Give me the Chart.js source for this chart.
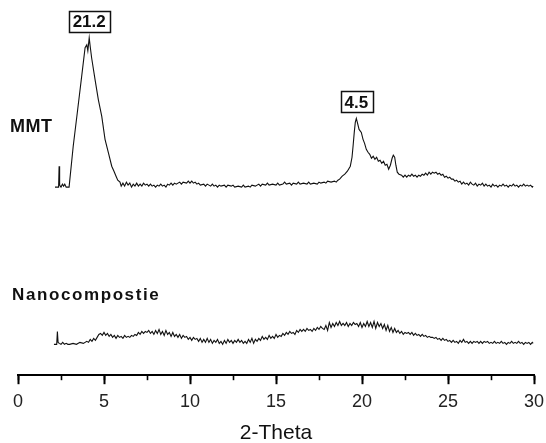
<!DOCTYPE html>
<html>
<head>
<meta charset="utf-8">
<script src="https://cdn.jsdelivr.net/npm/chart.js@4/dist/chart.umd.min.js"></script>
<style>
  html, body { margin: 0; padding: 0; background: #fff; }
  #wrap { width: 546px; height: 443px; position: relative; }
</style>
</head>
<body>
<div id="wrap"><canvas id="c" width="546" height="443"></canvas></div>
<script>
// ---- Data ----
const tickLabels = ['0', '5', '10', '15', '20', '25', '30'];
const seriesNames = ['MMT', 'Nanocompostie'];
const peakLabels = ['21.2', '4.5'];
const peakTheta = [4.14, 19.67];
const peakIntensity = [150, 69];
const seriesOffsets = [189, 31]; // vertical stacking offsets (a.u.)

const mmtTheta = [2.15,2.3,2.36,2.39,2.42,2.5,2.58,2.65,2.72,2.8,2.97,
3.21,3.47,3.70,3.90,4.00,4.06,4.14,4.20,4.28,4.48,4.67,4.87,5.06,5.25,5.45,5.58,5.70,5.80,5.93,
6.0,6.1,6.2,6.3,6.4,6.5,6.6,6.7,6.8,6.9,7.0,7.1,7.2,7.3,7.4,7.5,7.6,7.7,7.8,7.9,8.0,8.1,8.2,8.3,8.4,8.5,8.6,8.7,8.8,8.9,9.0,9.1,9.2,9.4,9.5,9.6,9.8,9.9,10.0,10.1,10.2,10.3,10.4,10.5,10.6,10.8,10.9,11.0,11.1,11.2,11.3,11.4,11.5,11.6,11.7,11.8,12.0,12.1,12.2,12.4,12.5,12.6,12.8,13.0,13.1,13.2,13.4,13.5,13.6,13.8,14.0,14.1,14.2,14.4,14.5,14.6,14.8,15.0,15.1,15.2,15.4,15.5,15.6,15.8,15.9,16.0,16.2,16.3,16.4,16.6,16.8,16.9,17.0,17.2,17.4,17.5,17.6,17.8,17.9,18.0,18.2,18.4,18.5,18.6,18.7,18.85,19.0,19.15,19.32,19.42,19.48,19.55,19.61,19.67,19.73,19.83,19.96,20.06,20.15,20.25,20.35,20.45,20.55,20.65,20.75,20.85,20.95,21.05,21.15,21.25,21.35,21.45,21.55,21.65,21.75,21.82,21.9,21.97,22.05,22.15,22.3,22.4,22.5,22.6,22.7,22.8,22.9,23.0,23.1,23.2,23.3,23.4,23.5,23.6,23.7,23.8,23.9,24.0,24.1,24.2,24.3,24.4,24.5,24.6,24.7,24.8,24.9,25.0,25.1,25.2,25.3,25.4,25.5,25.6,25.7,25.8,25.9,26.0,26.1,26.2,26.3,26.4,26.5,26.6,26.7,26.8,26.9,27.0,27.1,27.2,27.3,27.4,27.5,27.6,27.7,27.8,27.9,28.0,28.1,28.2,28.3,28.4,28.5,28.6,28.7,28.8,28.9,29.0,29.1,29.2,29.3,29.4,29.5,29.6,29.7,29.8,29.9,29.95];
const mmtIntensity = [0,0,0,21,2,0,3,1,3,0,0,
41,78,111,140,143,137,150,141,130,108,88,71,48,35,21,16,11,7,5,
1,4,1,5,2,4,0,3,1,4,1,3,1,4,2,3,1,3,1,2,0,2,1,3,1,2,0,3,2,4,2,4,3,5,3,5,4,6,4,6,4,5,3,4,2,3,1,3,2,1,3,1,2,0,2,1,2,0,2,1,2,0,1,0,2,0,1,0,2,1,3,1,3,2,4,2,3,2,4,2,3,5,3,4,2,4,3,5,3,4,3,5,3,4,3,5,4,5,4,6,5,6,5,7,8,11,13,16,21,30,41,55,65,69,65,58,55,48,44,38,35,33,29,31,28,30,26,27,24,26,22,23,18,22,29,32,30,22,15,13,12,10,12,10,12,11,13,11,12,10,12,11,13,12,14,12,15,13,15,14,15,13,14,12,13,10,11,9,10,8,8,6,7,5,6,3,5,3,4,2,5,3,2,4,1,3,2,4,1,3,1,2,0,3,1,2,0,2,1,3,1,2,0,2,1,3,1,2,0,2,1,3,1,2,1,2,0,1];

const nanoTheta = [2.09,2.2,2.25,2.29,2.33,2.4,2.5,2.6,2.7,2.8,2.9,3.0,3.2,3.4,3.6,3.8,4.0,4.1,4.2,4.3,4.4,4.5,4.6,4.7,4.8,4.9,5.0,5.1,5.2,5.3,5.4,5.5,5.6,5.7,5.8,5.9,6.0,6.1,6.2,6.3,6.4,6.5,6.6,6.7,6.8,6.9,7.0,7.1,7.2,7.3,7.4,7.5,7.6,7.7,7.8,7.9,8.0,8.1,8.2,8.3,8.4,8.5,8.6,8.7,8.8,8.9,9.0,9.1,9.2,9.3,9.4,9.5,9.6,9.7,9.8,9.9,10.0,10.1,10.2,10.3,10.4,10.5,10.6,10.7,10.8,10.9,11.0,11.1,11.2,11.3,11.4,11.5,11.6,11.7,11.8,11.9,12.0,12.1,12.2,12.3,12.4,12.5,12.6,12.7,12.8,12.9,13.0,13.1,13.2,13.3,13.4,13.5,13.6,13.7,13.8,13.9,14.0,14.1,14.2,14.3,14.4,14.5,14.6,14.7,14.8,14.9,15.0,15.1,15.2,15.3,15.4,15.5,15.6,15.7,15.8,15.9,16.0,16.1,16.2,16.3,16.4,16.5,16.6,16.7,16.8,16.9,17.0,17.1,17.2,17.3,17.4,17.5,17.6,17.7,17.8,17.9,18.0,18.1,18.2,18.3,18.4,18.5,18.6,18.7,18.8,18.9,19.0,19.1,19.2,19.3,19.4,19.5,19.6,19.7,19.8,19.9,20.0,20.1,20.2,20.3,20.4,20.5,20.6,20.7,20.8,20.9,21.0,21.1,21.2,21.3,21.4,21.5,21.6,21.7,21.8,21.9,22.0,22.1,22.2,22.3,22.4,22.5,22.6,22.7,22.8,22.9,23.0,23.1,23.2,23.3,23.4,23.5,23.6,23.7,23.8,23.9,24.0,24.1,24.2,24.3,24.4,24.5,24.6,24.7,24.8,24.9,25.0,25.1,25.2,25.3,25.4,25.5,25.6,25.7,25.8,25.9,26.0,26.1,26.2,26.3,26.4,26.5,26.6,26.7,26.8,26.9,27.0,27.1,27.2,27.3,27.4,27.5,27.6,27.7,27.8,27.9,28.0,28.1,28.2,28.3,28.4,28.5,28.6,28.7,28.8,28.9,29.0,29.1,29.2,29.3,29.4,29.5,29.6,29.7,29.8,29.9,29.95];
const nanoIntensity = [0,0,0,13,2,1,0,2,0,1,0,0,1,0,2,1,3,2,5,3,6,4,7,10,11,9,12,9,11,8,10,7,9,6,9,7,8,6,9,7,8,7,9,8,10,9,12,10,13,11,13,12,14,11,13,10,14,11,15,10,13,9,14,10,12,8,12,8,10,7,10,6,9,7,8,5,7,4,7,5,6,3,6,2,5,2,6,2,5,1,4,2,5,1,3,0,4,1,5,2,4,1,4,2,5,2,4,1,3,1,5,2,6,1,5,3,6,4,8,5,7,5,9,6,8,6,10,7,9,8,11,9,12,10,13,11,12,10,14,12,15,13,15,13,16,14,15,13,16,14,17,15,18,16,15,19,14,22,17,21,18,22,19,23,19,21,19,22,18,21,19,22,20,21,18,22,17,21,18,23,18,22,17,23,16,22,18,21,16,20,14,19,13,17,12,16,12,14,11,13,10,12,11,12,10,12,9,11,9,10,8,10,8,9,7,8,7,7,6,7,5,6,4,6,4,5,3,4,2,4,2,3,1,4,2,5,2,3,1,3,1,3,2,3,1,3,1,3,2,3,1,2,1,3,1,2,1,3,1,2,0,2,1,3,1,2,1,3,1,2,0,2,1,2,0,2,1];

function toPoints(xs, ys, off) {
  return xs.map((v, i) => ({ x: v, y: ys[i] + off }));
}

// ---- Text labels plugin (series names + boxed peak labels) ----
const labelPlugin = {
  id: 'labels',
  afterDatasetsDraw(chart) {
    const ctx = chart.ctx;
    const xs = chart.scales.x, ys = chart.scales.y;
    ctx.save();
    ctx.fillStyle = '#111';
    ctx.textBaseline = 'middle';
    ctx.textAlign = 'left';
    ctx.font = 'bold 18px "Liberation Sans", Arial, sans-serif';
    ctx.letterSpacing = '0.5px';
    ctx.fillText(seriesNames[0], 10, 127);
    ctx.font = 'bold 17px "Liberation Sans", Arial, sans-serif';
    ctx.letterSpacing = '1.6px';
    ctx.fillText(seriesNames[1], 12, 295);
    ctx.letterSpacing = '0px';
    // boxed peak labels
    ctx.font = 'bold 17px "Liberation Sans", Arial, sans-serif';
    ctx.textAlign = 'center';
    for (let i = 0; i < peakLabels.length; i++) {
      const px = xs.getPixelForValue(peakTheta[i]);
      const py = ys.getPixelForValue(peakIntensity[i] + seriesOffsets[0]);
      const w = ctx.measureText(peakLabels[i]).width + 8;
      const h = 21;
      const bottom = py - 6;
      ctx.lineWidth = 1.5;
      ctx.strokeStyle = '#111';
      ctx.strokeRect(Math.round(px - w / 2) + 0.5, Math.round(bottom - h) + 0.5, Math.round(w), h);
      ctx.fillText(peakLabels[i], px, bottom - h / 2 + 1);
    }
    ctx.restore();
  }
};

function noSidePadding(s) {
  s.paddingLeft = 0;
  s.paddingRight = 0;
}

new Chart(document.getElementById('c'), {
  type: 'line',
  data: {
    datasets: [
      { label: seriesNames[0], data: toPoints(mmtTheta, mmtIntensity, seriesOffsets[0]),
        borderColor: '#111', borderWidth: 1.1, pointRadius: 0, tension: 0, xAxisID: 'x' },
      { label: seriesNames[1], data: toPoints(nanoTheta, nanoIntensity, seriesOffsets[1]),
        borderColor: '#111', borderWidth: 1.1, pointRadius: 0, tension: 0, xAxisID: 'x' }
    ]
  },
  options: {
    responsive: false,
    animation: false,
    events: [],
    layout: { padding: { left: 18, right: 12, top: 7, bottom: -7.5 } },
    plugins: { legend: { display: false }, tooltip: { enabled: false } },
    scales: {
      x: {
        type: 'linear', position: 'bottom', weight: 1, min: 0, max: 30,
        ticks: {
          stepSize: 5, padding: 7.5, color: '#222',
          font: { family: '"Liberation Sans", Arial, sans-serif', size: 18 },
          callback: (v) => tickLabels[Math.round(v / 5)] ?? ''
        },
        grid: { drawOnChartArea: false, drawTicks: true, tickLength: 9, tickWidth: 2, tickColor: '#000' },
        border: { display: true, color: '#000', width: 2 },
        title: { display: true, text: '2-Theta', color: '#111',
          font: { family: '"Liberation Sans", Arial, sans-serif', size: 21 },
          padding: { top: 0, bottom: 4.5 } },
        afterFit: noSidePadding
      },
      x2: {
        type: 'linear', position: 'bottom', weight: 0, min: 0, max: 30,
        ticks: { stepSize: 2.5, display: false },
        grid: { drawOnChartArea: false, drawTicks: true, tickLength: 5, tickWidth: 1.6, tickColor: '#000' },
        border: { display: false },
        afterFit: (s) => { s.height = 0; noSidePadding(s); }
      },
      y: { display: false, min: 0, max: 370 }
    }
  },
  plugins: [labelPlugin]
});
</script>
</body>
</html>
